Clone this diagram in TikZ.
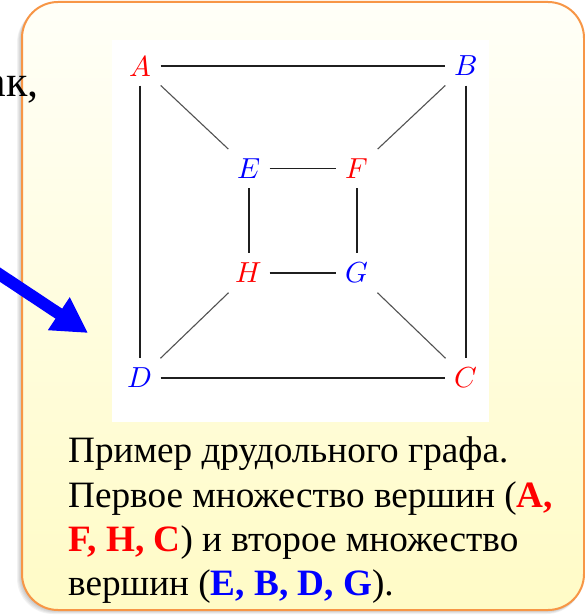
\documentclass[tikz,border=0pt]{standalone}
\usepackage{fontspec}
\usepackage{unicode-math}
\setmainfont{Liberation Serif}
\setmathfont{latinmodern-math.otf}
\usetikzlibrary{arrows.meta}
\definecolor{boxorange}{RGB}{247,150,70}
\definecolor{boxtop}{RGB}{255,255,248}
\definecolor{boxbot}{RGB}{255,251,198}
\definecolor{vred}{RGB}{255,0,0}
\definecolor{vblue}{RGB}{0,0,255}
\begin{document}
\begin{tikzpicture}[x=1pt,y=-1pt,
  vtx/.style={minimum width=41pt,minimum height=39pt,inner sep=0pt,
    font=\fontsize{29}{29}\selectfont},
  redv/.style={vtx,text=vred},
  bluev/.style={vtx,text=vblue},
  edg/.style={draw=black!88,line width=1.2pt},
  dia/.style={draw=black!68,line width=1.1pt},
  captxt/.style={anchor=base west,inner sep=0pt,font=\fontsize{37.2}{44}\selectfont},
  bigarrow/.style={draw=vblue,line width=12pt,-{Triangle[length=35pt,width=37pt]}}]
\useasboundingbox (0,0) rectangle (585,615);
% shadow of the callout
\foreach \d in {1,...,5}
  \fill[black,opacity=0.05,rounded corners=36pt] (22-\d,2+\d) rectangle (584-0.3*\d,610+\d*0.8);
% callout box
\shade[top color=boxtop,bottom color=boxbot,rounded corners=36pt] (22,2) rectangle (584,610);
\draw[boxorange,line width=2pt,rounded corners=36pt] (22,2) rectangle (584,610);
% white picture area
\fill[white] (112,40) rectangle (489,422);
% vertices
\node[redv]  (A) at (140,66)    {$A$};
\node[bluev] (B) at (466,66)    {$B$};
\node[bluev] (E) at (249,168.5) {$E$};
\node[redv]  (F) at (357,168.5) {$F$};
\node[redv]  (H) at (249,273)   {$H$};
\node[bluev] (G) at (357,273)   {$G$};
\node[bluev] (D) at (140,378)   {$D$};
\node[redv]  (C) at (466,378)   {$C$};
% edges
\draw[edg] (A) -- (B);
\draw[edg] (A) -- (D);
\draw[edg] (B) -- (C);
\draw[edg] (D) -- (C);
\draw[edg] (E) -- (F);
\draw[edg] (E) -- (H);
\draw[edg] (F) -- (G);
\draw[edg] (H) -- (G);
\draw[dia] (A) -- (E);
\draw[dia] (B) -- (F);
\draw[dia] (H) -- (D);
\draw[dia] (G) -- (C);
% caption
\node[captxt] (c1) at (68,462) {Пример друдольного графа.};
\node[captxt] (c2) at (68,507) {Первое множество вершин (\textbf{\color{vred}A,}};
\node[captxt] (c3) at (68,551) {\textbf{\color{vred}F, H, C}) и второе множество};
\node[captxt] (c4) at (68,595) {вершин (\textbf{\color{vblue}E, B, D, G}).};
% slide text behind the callout
\node[anchor=base east,inner sep=0pt,font=\fontsize{44}{44}\selectfont] (prev) at (39,96) {ак,};
% blue pointer arrow
\coordinate (ar1) at (-4,272);
\coordinate (ar2) at (88,333);
\draw[bigarrow] (ar1) -- (ar2);
\end{tikzpicture}
\end{document}
